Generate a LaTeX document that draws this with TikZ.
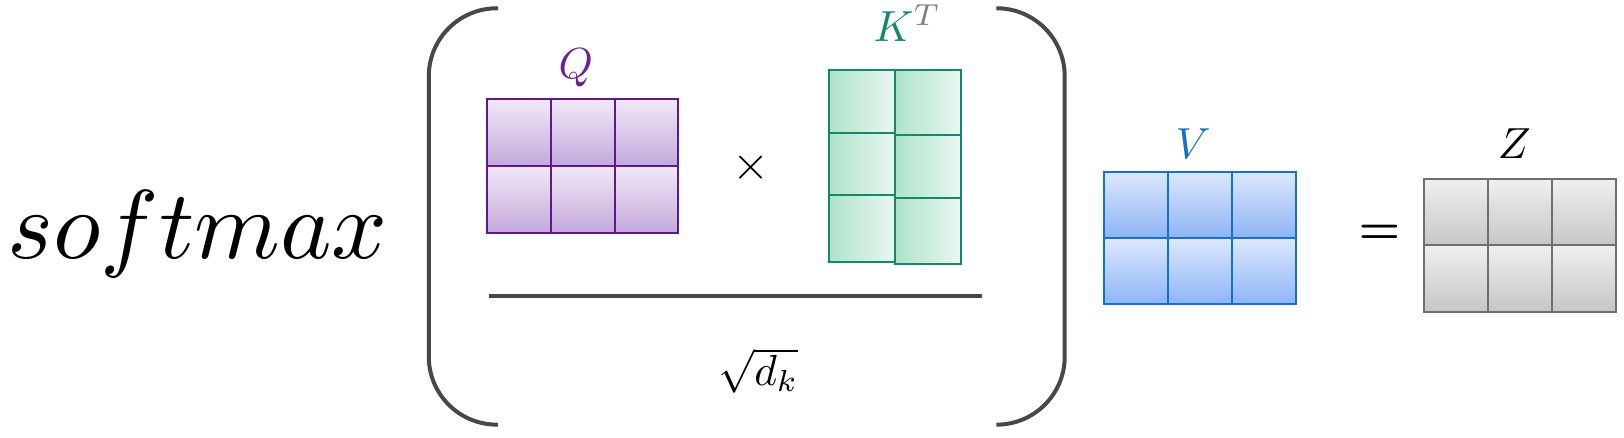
\documentclass[tikz,border=0pt]{standalone}
\usepackage{graphicx}
\definecolor{parcol}{HTML}{484848}
\definecolor{qborder}{HTML}{5E1A8C}
\definecolor{qcol}{HTML}{6B2290}
\definecolor{qtop}{HTML}{F0E8F6}
\definecolor{qbot}{HTML}{C4A9DC}
\definecolor{kborder}{HTML}{118A6C}
\definecolor{kcol}{HTML}{138A6A}
\definecolor{tgray}{HTML}{7F7F7F}
\definecolor{kleft}{HTML}{AEE2CA}
\definecolor{kright}{HTML}{EAF7F1}
\definecolor{vborder}{HTML}{1672C8}
\definecolor{vcol}{HTML}{1A6FC4}
\definecolor{vtop}{HTML}{DCE8FC}
\definecolor{vbot}{HTML}{8DB4F6}
\definecolor{zborder}{HTML}{6E6E6E}
\definecolor{ztop}{HTML}{EFEFEF}
\definecolor{zbot}{HTML}{C6C6C6}
\tikzset{
  cellbase/.style={transform shape, line width=2pt, inner sep=0pt, outer sep=0pt, anchor=north west},
  qcell/.style={cellbase, draw=qborder, top color=qtop, bottom color=qbot, minimum width=61.67pt, minimum height=64.5pt},
  vcell/.style={cellbase, draw=vborder, top color=vtop, bottom color=vbot, minimum width=61.67pt, minimum height=64pt},
  zcell/.style={cellbase, draw=zborder, top color=ztop, bottom color=zbot, minimum width=61.67pt, minimum height=64pt},
  kcell/.style={cellbase, draw=kborder, left color=kleft, right color=kright, minimum width=64pt},
  lbl/.style={transform shape, inner sep=0pt},
  paren/.style={draw=parcol, line width=4pt, rounded corners=68pt},
}
\newcommand{\mylbl}[1]{\scalebox{4.2}{$#1$}}
\begin{document}
\begin{tikzpicture}[x=1pt,y=-1pt,scale=1.0357]
\useasboundingbox (0,0) rectangle (1568,422);
% softmax
\node[lbl] (sm) at (191,226) {\resizebox{367pt}{!}{$softmax$}};
% parentheses
\draw[paren] (481,8) -- (414,8) -- (414,410) -- (481,410);
\draw[paren] (962,8) -- (1028,8) -- (1028,410) -- (962,410);
% Q
\foreach \c in {0,1,2} \foreach \r in {0,1}
  \node[qcell] (q\c\r) at ({470+\c*61.67},{96+\r*64.5}) {};
\node[lbl, text=qcol] (qlab) at (556,66) {\mylbl{Q}};
% times
\node[lbl] (times) at (725,162) {\scalebox{4.6}{$\times$}};
% K^T
\node[kcell, minimum height=60pt] (k00) at (800,68) {};
\node[kcell, minimum height=60pt] (k01) at (800,128) {};
\node[kcell, minimum height=65pt] (k02) at (800,188) {};
\node[kcell, minimum height=62pt] (k10) at (864,68) {};
\node[kcell, minimum height=61pt] (k11) at (864,130) {};
\node[kcell, minimum height=64pt] (k12) at (864,191) {};
\node[lbl] (klab) at (876,22) {\mylbl{\color{kcol}K^{\color{tgray}T}}};
% fraction line
\coordinate (fl) at (472,286);
\coordinate (fr) at (948,286);
\draw[draw=parcol, line width=4pt] (fl) -- (fr);
\node[lbl] (sq) at (732,358) {\mylbl{\sqrt{d_k}}};
% V
\foreach \c in {0,1,2} \foreach \r in {0,1}
  \node[vcell] (v\c\r) at ({1066+\c*61.67},{166+\r*64}) {};
\node[lbl, text=vcol] (vlab) at (1152,139) {\mylbl{V}};
% equals
\node[lbl] (eq) at (1332,226) {\scalebox{4.5}{\boldmath$=$}};
% Z
\foreach \c in {0,1,2} \foreach \r in {0,1}
  \node[zcell] (z\c\r) at ({1375+\c*61.67},{173+\r*64}) {};
\node[lbl] (zlab) at (1462,139) {\mylbl{Z}};
\end{tikzpicture}
\end{document}
